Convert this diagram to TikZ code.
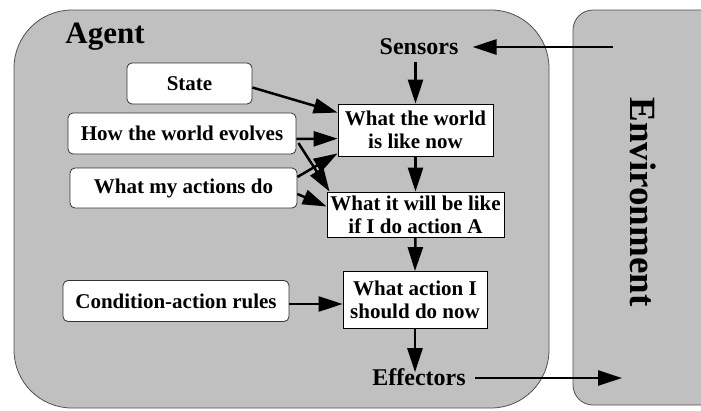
\documentclass[tikz,border=0pt]{standalone}
\usepackage{fontspec}
\setmainfont{Liberation Serif}
\usetikzlibrary{arrows.meta}
\definecolor{panel}{HTML}{C0C0C0}
\definecolor{edge}{HTML}{505050}
\tikzset{
  arr/.style={line width=2.5pt,-{Triangle[length=24pt,width=15pt]}},
  panelbox/.style={fill=panel,draw=edge,line width=0.8pt},
  rbox/.style={fill=white,draw=black!80,line width=0.8pt,rounded corners=5pt,inner sep=0pt,align=center,font=\fontsize{21}{23}\selectfont\bfseries},
  sbox/.style={fill=white,draw=black,line width=0.8pt,inner sep=0pt,align=center,font=\fontsize{21}{23}\selectfont\bfseries},
  lbl/.style={inner sep=0pt,font=\fontsize{24}{26}\selectfont\bfseries}
}
\begin{document}
\begin{tikzpicture}[x=1pt,y=-1pt]
\useasboundingbox (0,0) rectangle (701,410);
\begin{scope}
\clip (0,0) rectangle (701,410);
\draw[panelbox,rounded corners=58pt] (14,10) rectangle (549,408);
\draw[panelbox,rounded corners=20pt] (573,10) rectangle (740,405);
\end{scope}
\node[inner sep=0pt,font=\fontsize{31}{33}\selectfont\bfseries] (agent) at (105,37) {Agent};
\node[inner sep=0pt,rotate=-90,font=\fontsize{37}{39}\selectfont\bfseries] (envlabel) at (643,202) {Environment};
\node[lbl] (sensors) at (419,47) {Sensors};
\node[lbl] (effectors) at (419,377) {Effectors};
\node[rbox,minimum width=125pt,minimum height=41pt] (state) at (189.5,83.5) {State};
\node[rbox,minimum width=228pt,minimum height=41pt] (evolves) at (182,133.5) {How the world evolves};
\node[rbox,minimum width=227pt,minimum height=40pt] (actions) at (183.5,188) {What my actions do};
\node[rbox,minimum width=226pt,minimum height=41pt] (rules) at (176,301) {Condition-action rules};
\node[sbox,minimum width=155pt,minimum height=52pt] (w1) at (415.5,130) {What the world\\is like now};
\node[sbox,minimum width=177pt,minimum height=45pt] (w2) at (415.5,214.5) {What it will be like\\if I do action A};
\node[sbox,minimum width=144pt,minimum height=57pt] (w3) at (415,300) {What action I\\should do now};
\coordinate (envin) at (613,47);
\coordinate (envout) at (622,378);
\draw[arr] (envin) -- ([xshift=14pt]sensors.east);
\draw[arr] (w1.north |- sensors.south) ++(0,7) -- (w1.north);
\draw[arr] (w1.south) -- (w2.north);
\draw[arr] (w2.south) -- (w3.north);
\draw[arr] (w3.south) -- ([yshift=-4pt]w3.south |- effectors.north);
\draw[arr] ([xshift=9pt,yshift=-1pt]effectors.east) -- (envout);
\draw[arr] ([yshift=-4pt]state.east) -- ([yshift=-9pt]w1.north west);
\draw[arr] ([yshift=-5.5pt]evolves.east) -- ([yshift=-35pt]w1.north west);
\draw[arr] ([xshift=2pt,yshift=-9.5pt]evolves.east) -- ([xshift=3pt]w2.north west);
\draw[arr] ([yshift=11pt]actions.east) -- ([yshift=3pt]w1.south west);
\draw[arr] ([yshift=-6pt]actions.east) -- ([yshift=8pt]w2.west);
\draw[arr] ([yshift=-3pt]rules.east) -- ([yshift=-3pt]rules.east -| w3.west);
\end{tikzpicture}
\end{document}
